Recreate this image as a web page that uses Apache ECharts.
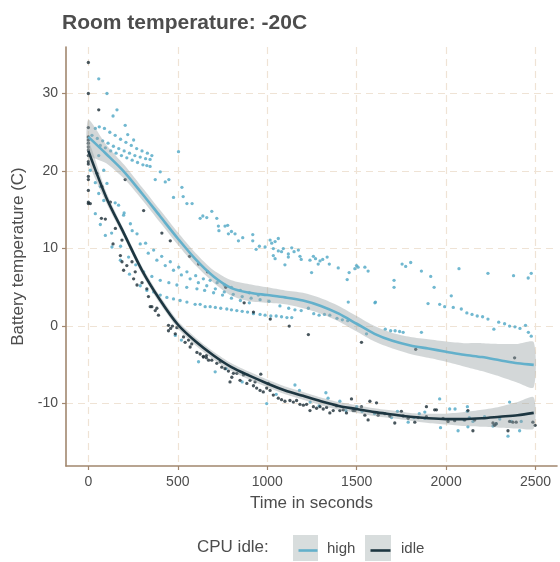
<!DOCTYPE html>
<html>
<head>
<meta charset="utf-8">
<script src="https://cdn.jsdelivr.net/npm/echarts@6/dist/echarts.min.js"></script>
<style>html,body{margin:0;padding:0;background:#fff}#c{width:560px;height:562px}</style>
</head>
<body>
<div id="c"></div>
<script>
// ---- data ----
const xTicks = [0, 500, 1000, 1500, 2000, 2500];
const yTicks = [-10, 0, 10, 20, 30];
const seriesNames = ['high', 'idle'];

const highPoints = [
  [58,31.9],[104,30.0],[160,27.9],[138,27.1],[206,25.9],[220,24.7],[253,24.0],[504,22.5],
  [39,25.5],[61,25.7],[90,25.5],[120,25.0],[150,24.6],[180,24.1],[210,23.7],[240,23.3],[270,22.9],[300,22.6],[330,22.3],[355,22.0],
  [20,24.6],[50,24.2],[80,23.9],[110,23.6],[140,23.2],[170,22.9],[200,22.6],[230,22.3],[260,22.0],[290,21.8],[320,21.6],[345,21.5],
  [67,23.3],[95,23.0],[125,22.6],[155,22.3],[185,22.0],[215,21.7],[245,21.4],[275,21.1],[305,20.8],[327,20.7],[345,20.6],
  [374,18.9],[402,19.9],[430,18.6],[450,18.9],[476,16.6],[523,17.9],[530,16.7],[551,15.8],[580,15.8],[625,13.9],[640,14.2],
  [662,14.0],[690,14.8],[718,13.9],[727,12.9],[730,12.3],[764,12.9],[779,13.0],[783,11.9],[800,12.2],[820,11.9],[839,11.0],
  [863,11.4],[919,11.8],[919,11.0],[938,9.9],[956,10.3],[988,10.2],[1016,11.1],[1025,10.7],[1044,10.9],[1062,11.3],[1034,10.0],
  [1062,9.7],[1034,9.1],[1044,8.7],[1080,9.6],[1090,10.0],[1099,7.9],[1118,9.3],[1118,8.9],[1137,10.1],[1150,9.6],[1174,9.8],
  [1183,9.0],[1190,8.6],[1239,8.5],[1248,6.9],[1258,9.0],[1270,8.7],[1285,8.0],[1295,8.4],[1310,8.6],[1335,8.9],[1347,8.0],
  [1397,7.5],[1447,6.0],[1458,6.9],[1490,7.4],[1499,7.8],[1508,7.6],[1546,7.6],[1564,7.1],[1605,3.1],[1709,5.9],[1709,5.0],
  [1754,8.0],[1774,7.7],[1802,8.2],[1862,7.1],[1914,6.4],[1933,5.0],[2029,3.9],[2072,7.4],[2234,6.8],[2377,6.5],[2459,6.2],[2476,6.8],
  [1453,3.1],[1602,3.0],[1899,2.9],[1964,2.8],[1992,2.5],[2040,2.4],[2085,2.2],[2116,1.7],[2145,1.5],[2174,1.3],[2204,1.2],
  [2234,0.9],[2267,-0.4],[2294,0.5],[2327,0.3],[2355,0.0],[2385,-0.1],[2413,-0.3],[2444,0.1],[2460,-0.8],[2476,-1.3],
  [169,15.6],[200,14.6],[235,13.2],[272,11.9],[320,10.7],[365,9.8],[410,9.0],[458,8.3],[505,7.6],[551,7.0],[600,6.5],
  [643,6.1],[681,5.9],[720,5.6],[760,5.3],[800,5.0],[850,4.6],[900,4.3],[950,4.0],
  [150,15.9],[197,14.3],[245,12.3],[290,10.6],[335,9.4],[383,8.5],[430,7.8],[476,7.2],[520,6.6],[569,6.1],[615,5.6],
  [662,5.2],[710,4.8],[760,4.4],[810,4.1],[860,3.8],[910,3.6],[960,3.4],[1010,3.2],
  [130,12.0],[180,10.3],[225,8.9],[265,7.9],[309,7.0],[355,6.4],[402,5.9],[450,5.6],[495,5.3],[550,5.0],[607,4.8],
  [650,4.6],[700,4.3],[750,4.0],[800,3.6],[850,3.3],[900,3.0],
  [95,11.7],[132,10.2],[179,8.5],[230,6.7],[290,5.2],[327,4.6],[365,4.4],[402,4.0],[439,3.7],[476,3.5],[513,3.3],
  [551,3.1],[597,2.8],[625,2.8],[653,2.5],[681,2.5],[710,2.4],[740,2.3],[774,2.2],[800,2.1],[830,2.0],[860,1.9],
  [890,1.8],[923,1.6],[960,1.5],[988,1.4],[1020,1.3],[1050,1.3],[1080,1.2],[1110,1.1],[1137,1.1],
  [1071,2.6],[1120,2.3],[1155,2.1],[1190,2.0],[1230,2.3],[1260,1.6],[1290,1.4],[1320,1.5],[1350,1.4],[1390,1.0],
  [1420,0.8],[1450,0.7],[1555,-1.0],[1660,-0.4],[1690,-0.6],[1715,-0.6],[1740,-0.7],[1760,-0.8],[1862,-0.8],
  [11,20.1],[39,18.5],[67,18.0],[86,20.1],[58,17.1],[104,18.4],[86,16.2],[58,22.0],[39,14.5],[67,13.1],
  [486,-1.2],[520,-1.8],[616,-4.6],[709,-5.9],[770,-5.5],[860,-7.2],[997,-10.0],[1050,-8.8],[1155,-7.6],[1180,-8.3],
  [1240,-9.8],[1290,-10.3],[1328,-8.6],[1340,-9.3],[1406,-9.7],[1440,-10.9],[1500,-10.4],[1530,-11.0],[1600,-11.3],
  [1695,-11.8],[1728,-11.0],[1788,-12.4],[1820,-11.8],[1850,-11.3],[1881,-11.1],[1881,-11.9],[1964,-9.4],[1969,-13.1],
  [2020,-10.7],[2050,-10.7],[2067,-13.5],[2100,-12.1],[2119,-10.4],[2119,-11.0],[2122,-13.0],[2130,-11.8],[2150,-12.3],
  [2215,-11.7],[2262,-12.9],[2271,-12.7],[2280,-12.6],[2300,-12.0],[2346,-14.2],[2355,-9.8],[2364,-12.3],[2411,-13.5],[2420,-12.3]
];

const idlePoints = [
  [0,34.0],[0,30.0],[0,25.6],[0,24.4],[0,24.0],[0,23.6],[0,23.1],[0,22.7],[0,22.0],[0,21.2],[0,20.9],[0,19.3],
  [0,18.9],[0,17.5],[0,16.0],[0,15.8],
  [58,27.9],[206,18.9],[309,14.9],[411,12.0],[458,11.0],[566,9.0],[616,8.0],[666,7.0],[768,5.0],[871,3.0],[923,1.8],
  [1017,0.9],[1123,0.0],[1230,-1.1],[1527,-2.1],[1830,-3.0],[2383,-4.1],
  [11,15.8],[48,19.7],[76,18.0],[73,13.9],[95,13.8],[123,16.0],[151,12.6],[138,10.6],[188,11.1],[179,9.1],[188,8.3],
  [197,7.2],[215,7.8],[244,8.3],[253,6.1],[262,7.0],[272,5.3],[300,5.6],[327,4.8],[346,2.5],[336,3.8],[355,2.5],
  [374,2.0],[392,1.4],[383,2.3],[448,0.1],[460,-0.3],[448,-0.6],[470,0.0],[486,-1.0],[495,-0.2],[532,-1.4],[541,-2.1],
  [560,-1.8],[569,-2.7],[578,-2.3],[607,-3.4],[625,-3.6],[643,-4.0],[660,-3.8],[672,-4.4],
  [643,-3.9],[660,-4.1],[690,-4.4],[718,-4.8],[737,-4.6],[746,-5.3],[764,-5.5],[783,-5.8],[792,-7.2],[802,-6.6],
  [811,-6.1],[830,-6.1],[848,-7.0],[867,-6.3],[886,-7.4],[904,-7.0],[923,-7.7],[932,-7.2],[941,-8.0],[960,-8.3],
  [964,-6.2],[978,-8.5],[997,-8.0],[1006,-7.4],[1016,-8.3],[1034,-8.9],[1062,-9.3],[1080,-9.5],[1099,-9.7],[1127,-9.6],
  [1146,-9.8],[1164,-9.6],[1183,-10.1],[1202,-10.2],[1220,-10.1],[1239,-10.9],[1258,-10.4],[1276,-10.6],[1295,-10.4],
  [1313,-10.7],[1332,-10.5],[1350,-11.2],[1369,-10.9],[1388,-10.3],[1406,-10.9],[1425,-10.8],[1443,-11.2],[1471,-9.4],
  [1480,-10.9],[1490,-10.9],[1527,-10.4],[1564,-12.1],[1574,-9.7],[1611,-9.9],[1546,-11.5],[1620,-11.5],[1658,-11.3],
  [1685,-11.6],[1713,-12.5],[1750,-11.0],[1760,-11.6],[1788,-11.9],[1825,-12.4],[1844,-11.8],[1890,-10.4],[1890,-11.7],
  [1936,-10.8],[1946,-10.8],[1983,-11.9],[2011,-12.3],[2048,-12.2],[2104,-12.1],[2122,-10.9],[2150,-13.5],[2160,-12.1],
  [2262,-12.5],[2271,-12.8],[2280,-12.6],[2346,-13.5],[2355,-12.3],[2373,-12.4],[2392,-12.4],[2485,-12.4],[2498,-12.8]
];

// smoothed (loess) curves and their confidence bands
const smoothX   = [0,100,200,300,400,500,600,700,800,900,1000,1100,1200,1300,1400,1500,1600,1700,1800,1900,2000,2100,2200,2300,2400,2490];
const highFit   = [24.4,22.2,19.9,17.1,14.2,11.3,8.6,6.4,4.9,4.3,4.0,3.7,3.3,2.6,1.6,0.3,-1.0,-1.9,-2.5,-2.9,-3.3,-3.7,-4.0,-4.4,-4.8,-5.0];
const highLow   = [22.2,21.0,19.0,16.3,13.4,10.5,7.8,5.6,3.9,3.2,3.0,2.8,2.3,1.6,0.6,-0.7,-2.0,-2.9,-3.6,-4.1,-4.6,-5.2,-5.8,-6.5,-7.3,-7.9];
const highHigh  = [26.6,23.4,20.8,17.9,15.0,12.1,9.4,7.2,5.9,5.4,5.0,4.6,4.3,3.6,2.6,1.3,0.0,-0.9,-1.4,-1.7,-2.0,-2.2,-2.2,-2.3,-2.3,-2.1];
const idleFit   = [22.6,16.6,11.9,7.2,3.4,0.2,-2.0,-3.8,-5.3,-6.4,-7.4,-8.3,-9.0,-9.7,-10.3,-10.7,-11.1,-11.4,-11.7,-11.9,-12.0,-12.0,-11.9,-11.7,-11.5,-11.2];
const idleLow   = [21.3,15.9,11.4,6.7,2.9,-0.3,-2.5,-4.3,-5.8,-6.9,-7.9,-8.8,-9.5,-10.2,-10.8,-11.2,-11.6,-11.9,-12.2,-12.5,-12.7,-12.9,-13.0,-13.1,-13.2,-13.2];
const idleHigh  = [23.9,17.3,12.4,7.7,3.9,0.7,-1.5,-3.3,-4.8,-5.9,-6.9,-7.8,-8.5,-9.2,-9.8,-10.2,-10.6,-10.9,-11.2,-11.3,-11.3,-11.1,-10.8,-10.4,-9.8,-9.2];

// ---- styling ----
const BLUE_PT = '#4ea6c4', BLUE_LN = '#63b0cb';
const DARK_PT = '#1a2c35', DARK_LN = '#1d3641';
const BAND = 'rgba(150,160,163,0.42)';
const AXIS = '#a1876e';
const GRID = '#efe3d5';
const TXT = '#4d4d4d';
const FONT = '"Liberation Sans", Arial, sans-serif';

function zip(xs, ys) { return xs.map((x, i) => [x, ys[i]]); }
function bandData(lo, hi) { return smoothX.map((x, i) => [x, lo[i], hi[i]]); }

function bandSeries(lo, hi) {
  const d = bandData(lo, hi);
  return {
    type: 'custom', z: 3, silent: true,
    data: d,
    renderItem: function (params, api) {
      if (params.dataIndex !== 0) return null;
      const top = d.map(p => api.coord([p[0], p[2]]));
      const bot = d.map(p => api.coord([p[0], p[1]])).reverse();
      return { type: 'polygon', shape: { points: top.concat(bot), smooth: 0.25 }, style: { fill: BAND, stroke: null } };
    },
    encode: { x: 0, y: [1, 2] }
  };
}

const chart = echarts.init(document.getElementById('c'), null, { renderer: 'canvas' });
chart.setOption({
  animation: false,
  backgroundColor: '#ffffff',
  textStyle: { fontFamily: FONT },
  title: {
    text: 'Room temperature: -20C', left: 57, top: 8,
    textStyle: { fontSize: 21, fontWeight: 'bold', color: TXT, fontFamily: FONT }
  },
  grid: { left: 66, right: 3, top: 47, bottom: 96, containLabel: false },
  xAxis: {
    type: 'value', min: -125, max: 2620,
    name: 'Time in seconds', nameLocation: 'middle', nameGap: 29,
    nameTextStyle: { fontSize: 17, color: TXT, fontFamily: FONT },
    axisLine: { show: true, onZero: false, lineStyle: { color: AXIS, width: 1.6 } },
    axisTick: { show: true, length: 4, lineStyle: { color: AXIS, width: 1.2 }, customValues: xTicks },
    axisLabel: { fontSize: 14, color: TXT, margin: 9, customValues: xTicks, fontFamily: FONT, formatter: v => String(v) },
    splitLine: { show: true, lineStyle: { color: GRID, width: 1.2, type: [7, 5] } }
  },
  yAxis: {
    type: 'value', min: -18.05, max: 36,
    name: 'Battery temperature (C)', nameLocation: 'middle', nameGap: 36,
    nameTextStyle: { fontSize: 17, color: TXT, fontFamily: FONT },
    axisLine: { show: true, onZero: false, lineStyle: { color: AXIS, width: 1.6 } },
    axisTick: { show: true, length: 4, lineStyle: { color: AXIS, width: 1.2 }, customValues: yTicks },
    axisLabel: { fontSize: 14, color: TXT, margin: 8, customValues: yTicks, fontFamily: FONT, formatter: v => String(v) },
    splitLine: { show: true, lineStyle: { color: GRID, width: 1.2, type: [7, 5] } }
  },
  series: [
    { name: seriesNames[0], type: 'scatter', z: 2, data: highPoints, symbolSize: 3.3, itemStyle: { color: BLUE_PT }, silent: true },
    { name: seriesNames[1], type: 'scatter', z: 2, data: idlePoints, symbolSize: 3.3, itemStyle: { color: DARK_PT }, silent: true },
    bandSeries(highLow, highHigh),
    bandSeries(idleLow, idleHigh),
    { name: seriesNames[0] + ' fit', type: 'line', z: 4, smooth: 0.3, showSymbol: false, data: zip(smoothX, highFit), lineStyle: { color: BLUE_LN, width: 2.6 }, silent: true },
    { name: seriesNames[1] + ' fit', type: 'line', z: 4, smooth: 0.3, showSymbol: false, data: zip(smoothX, idleFit), lineStyle: { color: DARK_LN, width: 2.6 }, silent: true }
  ],
  graphic: [
    { type: 'text', left: 197, top: 539, style: { text: 'CPU idle:', fontSize: 17, fill: TXT, fontFamily: FONT } },
    { type: 'rect', left: 293, top: 535, shape: { width: 25, height: 26 }, style: { fill: '#d8dddd' } },
    { type: 'line', left: 296, top: 548, shape: { x1: 0, y1: 0, x2: 19, y2: 0 }, style: { stroke: BLUE_LN, lineWidth: 2.6 } },
    { type: 'text', left: 327, top: 541, style: { text: seriesNames[0], fontSize: 15, fill: TXT, fontFamily: FONT } },
    { type: 'rect', left: 365, top: 535, shape: { width: 26, height: 26 }, style: { fill: '#d8dddd' } },
    { type: 'line', left: 368, top: 548, shape: { x1: 0, y1: 0, x2: 20, y2: 0 }, style: { stroke: DARK_LN, lineWidth: 2.6 } },
    { type: 'text', left: 401, top: 541, style: { text: seriesNames[1], fontSize: 15, fill: TXT, fontFamily: FONT } }
  ]
});
</script>
</body>
</html>
